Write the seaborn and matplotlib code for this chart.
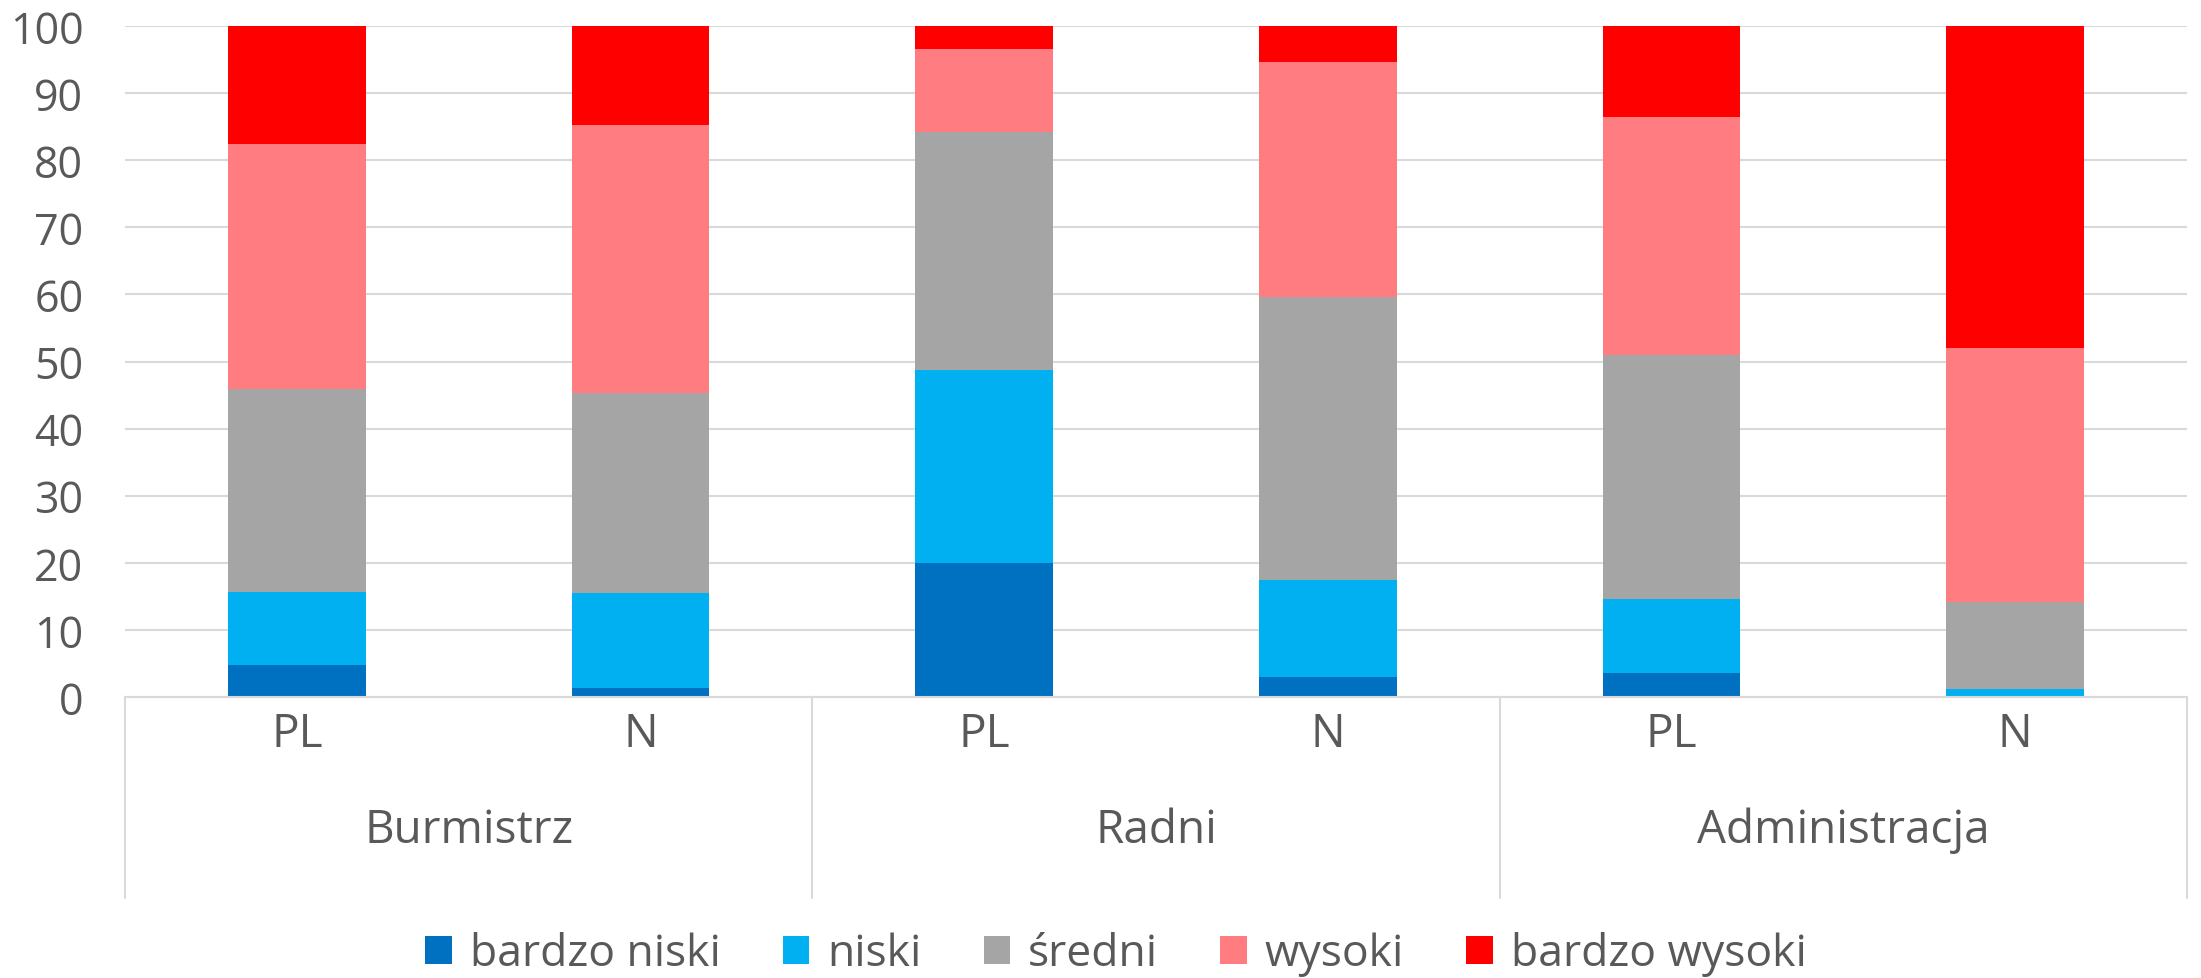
import matplotlib
matplotlib.use("Agg")
import matplotlib.pyplot as plt
import matplotlib.transforms as mtransforms
from matplotlib.lines import Line2D
from matplotlib.patches import Patch
import seaborn as sns
import pandas as pd
import numpy as np

# ---- data ----
groups = ["Burmistrz", "Burmistrz", "Radni", "Radni", "Administracja", "Administracja"]
subs = ["PL", "N", "PL", "N", "PL", "N"]
group_names = ["Burmistrz", "Radni", "Administracja"]
series_names = ["bardzo niski", "niski", "średni", "wysoki", "bardzo wysoki"]
bardzo_niski = [4.7, 1.4, 20.0, 3.0, 3.6, 0.0]
niski = [10.9, 14.1, 28.8, 14.5, 11.0, 1.2]
sredni = [30.3, 29.8, 35.4, 42.1, 36.4, 13.0]
wysoki = [36.5, 40.0, 12.4, 35.1, 35.4, 37.8]
bardzo_wysoki = [17.6, 14.7, 3.4, 5.3, 13.6, 48.0]
y_ticks = [0, 10, 20, 30, 40, 50, 60, 70, 80, 90, 100]

colors = ["#0070C0", "#00B0F0", "#A5A5A5", "#FF7C80", "#FF0000"]
text_color = "#595959"
grid_color = "#D9D9D9"

sns.set_theme(style="white")
plt.rcParams["font.family"] = ["Open Sans", "DejaVu Sans"]
FS = 33
FS_TICK = 31
FS_LEG = 32

W, H = 2201, 979
fig = plt.figure(figsize=(W / 100, H / 100), dpi=100)
ax = fig.add_axes([125 / W, 1 - 698 / H, (2187 - 125) / W, (698 - 27) / H])

keys = [f"{g}|{s}" for g, s in zip(groups, subs)]
series = [bardzo_niski, niski, sredni, wysoki, bardzo_wysoki]
cum = np.cumsum(np.array(series), axis=0)

# draw from top series down so lower segments overlay
for i in range(len(series) - 1, -1, -1):
    df = pd.DataFrame({"key": keys, "val": cum[i]})
    sns.barplot(data=df, x="key", y="val", order=keys, color=colors[i],
                width=0.4, saturation=1, ax=ax, errorbar=None, linewidth=0,
                zorder=2)

ax.set_ylim(0, 100)
ax.set_xlim(-0.5, len(keys) - 0.5)
ax.set_yticks(y_ticks)
ax.set_yticklabels([str(t) for t in y_ticks], fontsize=FS_TICK, color=text_color)
ax.yaxis.grid(True, color=grid_color, linewidth=1.5, zorder=0)
ax.set_axisbelow(True)
ax.tick_params(axis="y", length=0, pad=30)
ax.set_xticks([])
ax.set_xlabel("")
ax.set_ylabel("")
for s in ["top", "right", "left"]:
    ax.spines[s].set_visible(False)
ax.spines["bottom"].set_color(grid_color)
ax.spines["bottom"].set_linewidth(1.5)

trans = mtransforms.blended_transform_factory(ax.transData, fig.transFigure)
# sub-category labels
for i, s in enumerate(subs):
    ax.text(i, 1 - 735 / H, s, transform=trans, ha="center", va="center",
            fontsize=FS, color=text_color, clip_on=False)
# group labels
for j, g in enumerate(group_names):
    ax.text(2 * j + 0.5, 1 - 831 / H, g, transform=trans, ha="center", va="center",
            fontsize=FS, color=text_color, clip_on=False)
# separators
for xb in [-0.5, 1.5, 3.5, 5.5]:
    ax.add_line(Line2D([xb, xb], [1 - 698 / H, 1 - 899 / H], transform=trans,
                       color=grid_color, linewidth=1.5, clip_on=False))

handles = [Patch(facecolor=c, edgecolor="none") for c in colors]
fig.legend(handles, series_names, loc="center", bbox_to_anchor=(0.507, 1 - 955 / H),
           ncol=5, frameon=False, fontsize=FS_LEG, handlelength=0.6, handleheight=0.6,
           handletextpad=0.4, columnspacing=1.4, labelcolor=text_color)

fig.savefig("out.png", dpi=100, facecolor="white")
